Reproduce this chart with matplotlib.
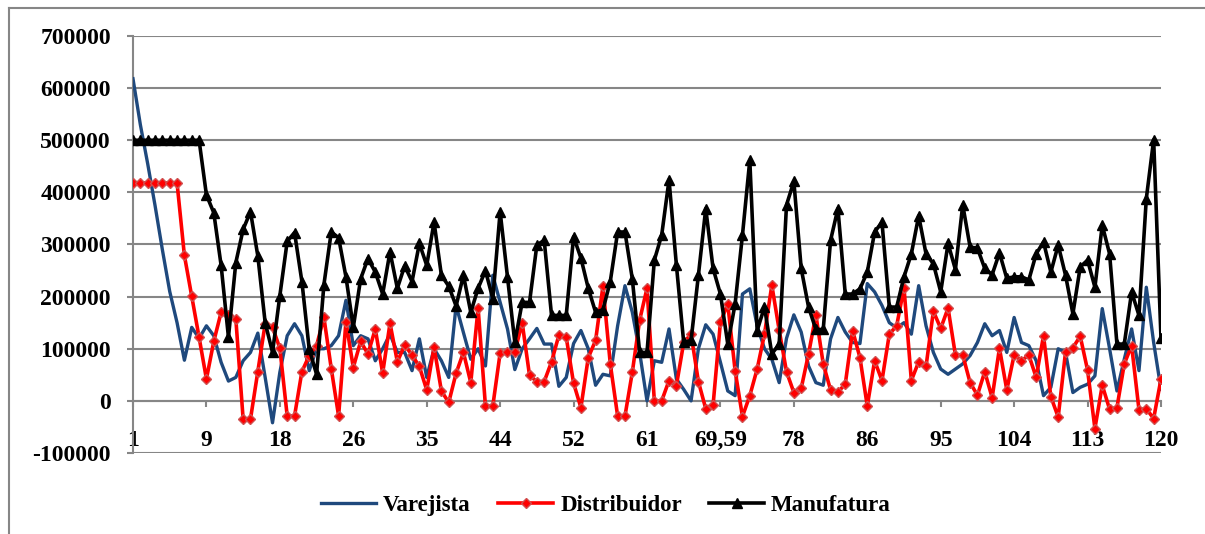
import numpy as np
import matplotlib
matplotlib.use("Agg")
import matplotlib.pyplot as plt
from matplotlib.lines import Line2D

# Pedidos por periodo em cada elo da cadeia
varejista = [
    618000, 530000, 455000, 375000, 290000, 210000, 150000, 78000, 141000, 120000,
    144000, 125000, 74000, 38000, 45000, 77000, 93000, 130000, 45000, -42000,
    55000, 125000, 148000, 125000, 58000, 100000, 100000, 106000, 125000, 193000,
    106000, 125000, 119000, 77000, 100000, 128000, 93000, 93000, 58000, 119000,
    45000, 100000, 77000, 45000, 183000, 131000, 80000, 100000, 67000, 241000,
    189000, 138000, 60000, 100000, 119000, 139000, 109000, 109000, 28000, 45000,
    110000, 135000, 100000, 30000, 51000, 48000, 144000, 221000, 170000, 93000,
    0, 77000, 74000, 138000, 42000, 22000, 0, 100000, 146000, 128000,
    74000, 19000, 10000, 205000, 215000, 144000, 100000, 80000, 35000, 120000,
    165000, 132000, 67000, 35000, 30000, 119000, 160000, 132000, 112000, 110000,
    225000, 209000, 183000, 150000, 140000, 150000, 128000, 221000, 144000, 93000,
    61000, 51000, 61000, 71000, 87000, 112000, 148000, 125000, 135000, 93000,
    160000, 112000, 106000, 77000, 10000, 26000, 100000, 93000, 16000, 26000,
    32000, 48000, 177000, 100000, 19000, 80000, 138000, 58000, 218000, 112000,
    22000,
]

distribuidor = [
    418000, 418000, 418000, 418000, 418000, 418000, 418000, 279000, 201000, 122000,
    42000, 114000, 170000, 165000, 158000, -35000, -35000, 56000, 148000, 141000,
    101000, -29000, -29000, 56000, 87000, 106000, 160000, 62000, -29000, 152000,
    64000, 114000, 90000, 138000, 53000, 149000, 75000, 107000, 88000, 66000,
    21000, 103000, 19000, -3000, 53000, 93000, 35000, 178000, -10000, -10000,
    92000, 93000, 94000, 150000, 49000, 37000, 37000, 75000, 126000, 122000,
    34000, -13000, 83000, 116000, 220000, 71000, -29000, -29000, 55000, 155000,
    216000, 0, 0, 39000, 29000, 112000, 128000, 37000, -15000, -8000,
    151000, 186000, 58000, -30000, 10000, 61000, 128000, 222000, 136000, 56000,
    16000, 24000, 90000, 165000, 71000, 21000, 17000, 32000, 135000, 83000,
    -10000, 77000, 39000, 128000, 144000, 217000, 39000, 75000, 66000, 172000,
    139000, 178000, 88000, 88000, 35000, 11000, 56000, 6000, 101000, 21000,
    88000, 77000, 88000, 45000, 125000, 8000, -31000, 94000, 102000, 124000,
    59000, -53000, 30000, -16000, -13000, 71000, 106000, -17000, -15000, -34000,
    42000,
]

manufatura = [
    500000, 500000, 500000, 500000, 500000, 500000, 500000, 500000, 500000, 500000,
    395000, 361000, 260000, 122000, 265000, 329000, 363000, 278000, 150000, 93000,
    202000, 306000, 323000, 229000, 99000, 51000, 223000, 324000, 313000, 238000,
    141000, 234000, 273000, 247000, 205000, 286000, 216000, 259000, 229000, 302000,
    260000, 343000, 241000, 220000, 182000, 241000, 170000, 216000, 250000, 196000,
    363000, 238000, 112000, 189000, 189000, 299000, 308000, 164000, 164000, 164000,
    315000, 274000, 216000, 170000, 175000, 229000, 324000, 324000, 234000, 93000,
    93000, 270000, 318000, 424000, 261000, 112000, 116000, 241000, 369000, 254000,
    205000, 109000, 186000, 318000, 462000, 135000, 180000, 90000, 109000, 376000,
    421000, 254000, 180000, 137000, 137000, 308000, 369000, 205000, 205000, 215000,
    247000, 324000, 343000, 180000, 180000, 238000, 282000, 355000, 282000, 263000,
    209000, 302000, 252000, 376000, 295000, 293000, 254000, 242000, 284000, 235000,
    238000, 238000, 232000, 282000, 305000, 247000, 299000, 241000, 167000, 257000,
    270000, 218000, 337000, 282000, 109000, 109000, 209000, 164000, 388000, 501000,
    120000,
]

tick_labels = ['1', '9', '18', '26', '35', '44', '52', '61', '69,59',
               '78', '86', '95', '104', '113', '120']

periodos = np.arange(1, len(varejista) + 1)
tick_pos = periodos[::10]

plt.rcParams['font.family'] = ['Liberation Serif', 'DejaVu Serif']
plt.rcParams['font.weight'] = 'bold'

fig = plt.figure(figsize=(12.05, 5.34), dpi=100)
ax = fig.add_axes([133 / 1205, 1 - 453 / 534, (1161 - 133) / 1205, (453 - 36) / 534])

grid_cor = '#868686'

ax.plot(periodos, varejista, color='#1F497D', lw=2.4, label='Varejista', zorder=3)
ax.plot(periodos, distribuidor, color='#FF0000', lw=2.6, marker='D', ms=4.8,
        mfc='#FF0000', mec='#D05050', mew=1.0, label='Distribuidor', zorder=4)
ax.plot(periodos, manufatura, color='#000000', lw=2.6, marker='^', ms=6.5,
        label='Manufatura', zorder=5)

ax.set_xlim(1, len(varejista))
ax.set_ylim(-100000, 700000)
ax.set_yticks(np.arange(-100000, 700001, 100000))
ax.set_yticklabels([str(v) for v in range(-100000, 700001, 100000)])
ax.yaxis.grid(True, color=grid_cor, lw=1.5)
ax.set_axisbelow(True)

ax.set_xticks(tick_pos)
ax.set_xticklabels(tick_labels)

for s in ['top', 'right']:
    ax.spines[s].set_visible(False)
ax.spines['left'].set_color(grid_cor)
ax.spines['left'].set_linewidth(1.5)
ax.spines['bottom'].set_position(('data', 0))
ax.spines['bottom'].set_color(grid_cor)
ax.spines['bottom'].set_linewidth(1.5)

ax.tick_params(axis='y', length=4, width=1.5, color=grid_cor, pad=12,
               labelsize=17, labelcolor='black')
ax.tick_params(axis='x', length=4, width=1.5, color=grid_cor, pad=17,
               labelsize=17, labelcolor='black')

fig.legend(loc='center', bbox_to_anchor=(606 / 1205, 1 - 505 / 534), ncol=3,
           frameon=False, fontsize=16.5, handlelength=2.4, handletextpad=0.3,
           columnspacing=1.2)

# moldura externa do grafico
fig.add_artist(Line2D([9 / 1205, 1], [1 - 8 / 534, 1 - 8 / 534], color=grid_cor, lw=1.5))
fig.add_artist(Line2D([9 / 1205, 9 / 1205], [0, 1 - 8 / 534], color=grid_cor, lw=1.5))

fig.savefig('out.png', dpi=100)
